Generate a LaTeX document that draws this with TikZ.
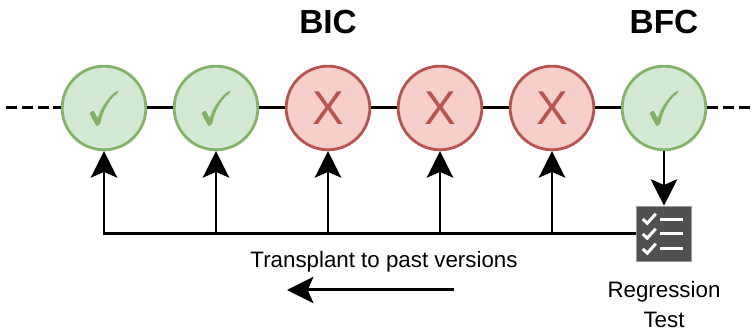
\documentclass[tikz,border=0pt]{standalone}
\usepackage{amssymb}
\usepackage{fontspec}
\setmainfont{Liberation Sans}
\usetikzlibrary{arrows.meta}
\definecolor{goodfill}{HTML}{D5E8D4}
\definecolor{goodline}{HTML}{82B366}
\definecolor{badfill}{HTML}{F8CECC}
\definecolor{badline}{HTML}{B85450}
\definecolor{iconfill}{HTML}{505050}
\newcommand{\okmark}{\scalebox{0.85}[0.95]{\special{pdf:code 2 Tr 0.45 w}$\checkmark$\special{pdf:code 0 Tr}}}
\tikzset{
	version/.style={circle, draw, line width=1.6pt, minimum size=47.6pt, inner sep=0pt},
	good/.style={version, draw=goodline, fill=goodfill, text=goodline, font=\fontsize{28}{28}\selectfont},
	bad/.style={version, draw=badline, fill=badfill, text=badline, font=\fontsize{27}{27}\selectfont},
	conn/.style={line width=1.7pt, -{Stealth[length=15pt, width=15pt, inset=3.2pt]}},
	link/.style={line width=1.7pt},
	title/.style={font=\bfseries\fontsize{19}{20}\selectfont},
	label/.style={font=\fontsize{12.7}{17}\selectfont, align=center},
	tick/.style={white, line width=1.7pt},
}
\begin{document}
\begin{tikzpicture}[x=0.02cm, y=-0.02cm]
	\path[use as bounding box] (0,0) rectangle (755,333);
	% commit line
	\coordinate (start) at (6,108);
	\coordinate (end) at (750,108);
	\node[good] (v1) at (104,108) {\okmark};
	\node[good] (v2) at (216,108) {\okmark};
	\node[bad] (v3) at (328,108) {X};
	\node[bad] (v4) at (440,108) {X};
	\node[bad] (v5) at (552,108) {X};
	\node[good] (v6) at (664,108) {\okmark};
	\draw[link, dash pattern=on 6.2pt off 2.8pt] (start) -- (v1);
	\draw[link, dash pattern=on 6.2pt off 2.8pt] (v6) -- (end);
	\foreach \a/\b in {v1/v2, v2/v3, v3/v4, v4/v5, v5/v6}
		\draw[link] (\a) -- (\b);
	\node[title] (bic) at (328,22) {BIC};
	\node[title] (bfc) at (664,22) {BFC};
	% test icon
	\node[draw=black!40, fill=iconfill, line width=0.6pt, minimum size=31.6pt, inner sep=0pt] (test) at (664,234) {};
	\foreach \y in {-15,0,15} {
		\draw[tick] ([xshift=-12.1pt, yshift=\y*0.567pt]test.center) -- ++(2.6pt,-2.4pt) -- ++(4.8pt,5.4pt);
		\draw[tick] ([xshift=-2.3pt, yshift=\y*0.567pt]test.center) -- ++(13pt,0);
	}
	\node[label, below=7.5pt] (testlabel) at (664,262) {Regression\\Test};
	% transplant arrows
	\draw[conn] (v6) -- (test);
	\draw[conn] (test) -| (v1);
	\foreach \v in {v2, v3, v4, v5}
		\draw[conn] (\v |- test) -- (\v);
	\node[label] (transplant) at (384,261.5) {Transplant to past versions};
	\coordinate (from) at (454,290);
	\coordinate (to) at (287,290);
	\draw[conn] (from) -- (to);
\end{tikzpicture}
\end{document}
